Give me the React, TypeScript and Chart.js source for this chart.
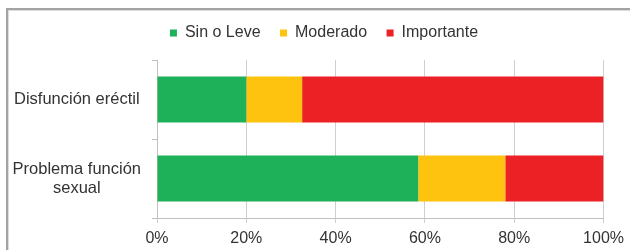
import React, { useEffect, useRef } from "react";
import { Chart, registerables } from "chart.js";

Chart.register(...registerables);

const categories: (string | string[])[] = ["Disfunción eréctil", ["Problema función", "sexual"]];
const seriesNames = ["Sin o Leve", "Moderado", "Importante"];
const sinOLeve = [20, 58.5];
const moderado = [12.5, 19.5];
const importante = [67.5, 22];
const seriesColors = ["#1fb05a", "#fec30e", "#ec2126"];
const xTicks = [0, 20, 40, 60, 80, 100];

const FONT = "'Liberation Sans', Arial, sans-serif";

const legendLayout = {
  id: "legendLayout",
  beforeLayout(chart: any) {
    const lg = chart.legend;
    if (lg && !lg.__patched) {
      const orig = lg.fit;
      lg.fit = function () {
        orig.call(this);
        this.height = 54.5;
      };
      lg.__patched = true;
    }
  },
  afterLayout(chart: any) {
    const lg = chart.legend;
    if (lg) lg.left = 43;
  },
};

export default function App() {
  const ref = useRef<HTMLCanvasElement | null>(null);

  useEffect(() => {
    if (!ref.current) return;
    const values = [sinOLeve, moderado, importante];
    const chart = new Chart(ref.current, {
      type: "bar",
      data: {
        labels: categories,
        datasets: seriesNames.map((name, i) => ({
          label: name,
          data: values[i],
          backgroundColor: seriesColors[i],
          borderWidth: 0,
          categoryPercentage: 1,
          barPercentage: 0.58,
        })),
      },
      plugins: [legendLayout],
      options: {
        indexAxis: "y",
        animation: false,
        responsive: false,
        maintainAspectRatio: false,
        layout: { padding: { left: 0, top: 5.5, right: 25, bottom: 0 } },
        plugins: {
          tooltip: { enabled: false },
          legend: {
            position: "top",
            labels: {
              boxWidth: 7,
              boxHeight: 7,
              padding: 19.5,
              color: "#333",
              font: { family: FONT, size: 16 },
            },
          },
        },
        scales: {
          x: {
            stacked: true,
            min: 0,
            max: 100,
            afterBuildTicks: (scale: any) => {
              scale.ticks = xTicks.map((v) => ({ value: v }));
            },
            afterFit: (scale: any) => {
              scale.height = 32;
            },
            ticks: {
              color: "#333",
              font: { family: FONT, size: 16 },
              padding: 6,
              callback: (v: any) => v + "%",
            },
            grid: { color: "#cfcfcf", tickLength: 5, lineWidth: 1 },
            border: { display: true, color: "#bfbfbf" },
          },
          y: {
            stacked: true,
            afterFit: (scale: any) => {
              scale.width = 157;
            },
            ticks: {
              color: "#333",
              crossAlign: "center",
              padding: 11,
              font: { family: FONT, size: 16.5, lineHeight: 1.15 },
            },
            grid: { drawOnChartArea: false, color: "#bfbfbf", tickLength: 5, offset: true },
            border: { display: true, color: "#bfbfbf" },
          },
        },
      },
    } as any);
    return () => chart.destroy();
  }, []);

  return (
    <div style={{ position: "absolute", left: 0, top: 0, width: 630, height: 250, overflow: "hidden", background: "#fff" }}>
      <div
        style={{
          position: "absolute",
          left: 6,
          top: 8,
          width: 700,
          height: 400,
          borderLeft: "2px solid #a3a3a3",
          borderTop: "2px solid #a3a3a3",
          boxShadow: "inset 1px 1px 0 #dcdcdc",
        }}
      />
      <canvas ref={ref} width={630} height={250} style={{ position: "absolute", left: 0, top: 0, display: "block" }} />
    </div>
  );
}
